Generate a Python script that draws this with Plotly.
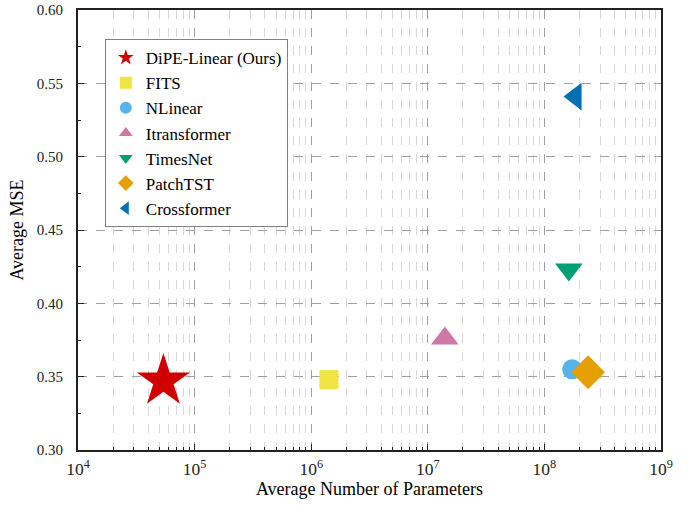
import plotly.graph_objects as go

models = ["DiPE-Linear (Ours)", "FITS", "NLinear", "Itransformer", "TimesNet", "PatchTST", "Crossformer"]
params = [5.4e4, 1.42e6, 1.73e8, 1.4e7, 1.62e8, 2.37e8, 1.85e8]
mse = [0.347, 0.348, 0.355, 0.376, 0.423, 0.353, 0.541]
symbols = ["star", "square", "circle", "triangle-up", "triangle-down", "diamond", "triangle-left"]
colors = ["#d00000", "#f0e442", "#56b4e9", "#cc79a7", "#009e73", "#e69f00", "#0072b2"]
sizes = [40, 19, 20, 24, 24, 26, 24]

fig = go.Figure()
for m, p, v, s, c, sz in zip(models, params, mse, symbols, colors, sizes):
    fig.add_trace(go.Scatter(x=[p], y=[v], mode="markers", name=m,
                             marker=dict(symbol=s, color=c, size=sz, line=dict(width=0))))

font = "Liberation Serif, Times New Roman, serif"
fig.update_layout(
    width=689, height=506,
    margin=dict(l=78, r=28, t=10, b=56),
    paper_bgcolor="white", plot_bgcolor="white",
    font=dict(family=font, size=15, color="#222"),
    legend=dict(x=0.046, y=0.934, xanchor="left", yanchor="top",
                bordercolor="#808080", borderwidth=1, bgcolor="white",
                font=dict(size=17, family=font, color="black"), itemsizing="constant",
                tracegroupgap=0),
    xaxis=dict(type="log", range=[4, 9], dtick=1, exponentformat="power",
               automargin=False,
               showline=True, linecolor="#222", linewidth=2, mirror=True,
               ticks="inside", ticklen=6, tickcolor="#222", tickfont=dict(size=14),
               ticklabelstandoff=3,
               showgrid=True, gridcolor="#a0a0a0", griddash="dash", gridwidth=1,
               zeroline=False,
               title=dict(text="Average Number of Parameters", font=dict(size=18, color="black"), standoff=0),
               minor=dict(dtick="D1", ticks="inside", ticklen=3, tickcolor="#222",
                          showgrid=True, gridcolor="#d8d8d8", griddash="dash", gridwidth=1)),
    yaxis=dict(range=[0.3, 0.6], dtick=0.05, tickformat=".2f",
               automargin=False,
               showline=True, linecolor="#222", linewidth=2, mirror=True,
               ticks="inside", ticklen=6, tickcolor="#222",
               ticklabelstandoff=10,
               showgrid=True, gridcolor="#a0a0a0", griddash="dash", gridwidth=1,
               zeroline=False,
               title=dict(text="Average MSE", font=dict(size=18, color="black"), standoff=8),
               minor=dict(dtick=0.025, ticks="inside", ticklen=3, tickcolor="#222", showgrid=False)),
)
fig.write_html("out.html", config={"displayModeBar": False},
               post_script="document.body.style.margin='0';")
